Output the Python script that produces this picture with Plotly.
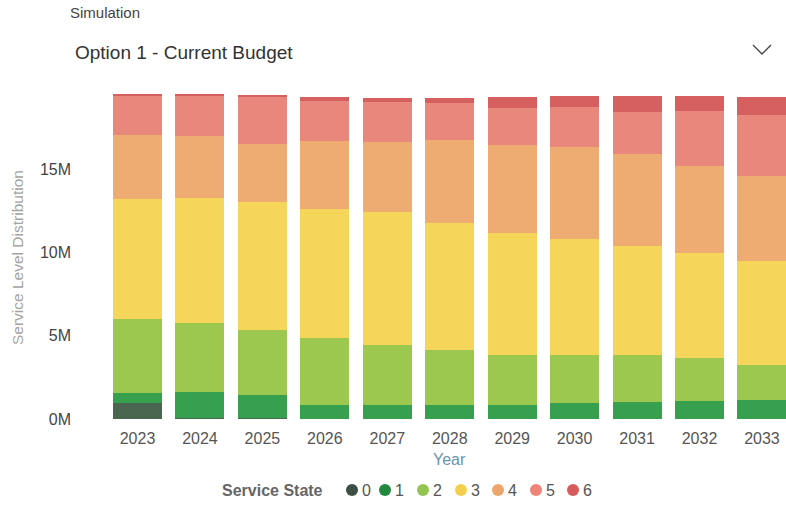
import plotly.graph_objects as go

# Service level distribution by year, per service state (values in millions)
years = ["2023", "2024", "2025", "2026", "2027", "2028", "2029", "2030", "2031", "2032", "2033"]
states = ["0", "1", "2", "3", "4", "5", "6"]

state0 = [0.94, 0.05, 0.05, 0.03, 0.03, 0.03, 0.03, 0.03, 0.03, 0.03, 0.03]
state1 = [0.60, 1.56, 1.40, 0.80, 0.80, 0.80, 0.82, 0.96, 1.00, 1.08, 1.10]
state2 = [4.46, 4.14, 3.90, 4.06, 3.62, 3.34, 3.00, 2.84, 2.80, 2.56, 2.10]
state3 = [7.24, 7.54, 7.70, 7.70, 8.00, 7.62, 7.30, 6.97, 6.58, 6.30, 6.24]
state4 = [3.80, 3.72, 3.46, 4.10, 4.20, 4.94, 5.33, 5.53, 5.48, 5.24, 5.12]
state5 = [2.40, 2.44, 2.88, 2.40, 2.40, 2.26, 2.20, 2.42, 2.54, 3.30, 3.68]
state6 = [0.03, 0.05, 0.05, 0.24, 0.24, 0.30, 0.66, 0.64, 0.94, 0.86, 1.06]

series = [state0, state1, state2, state3, state4, state5, state6]
bar_colors = ["#4b6650", "#36a04e", "#9cc850", "#f5d65a", "#eeac72", "#e8877c", "#d65f5f"]
legend_colors = ["#3b4f45", "#1f8a3e", "#93c452", "#f2d04e", "#eda56a", "#ee8378", "#d65b5b"]

y_ticks = [0, 5, 10, 15]
y_ticktext = ["0M", "5M", "10M", "15M"]

FONT = "Liberation Sans, Arial, sans-serif"

fig = go.Figure()
for name, vals, col in zip(states, series, bar_colors):
    fig.add_trace(go.Bar(
        x=years, y=[v * 1e6 for v in vals], name=name,
        marker=dict(color=col, line=dict(width=0)),
        showlegend=False,
    ))

W, H = 786, 509
L, R, T, B = 76, 0, 86, 90
pw, ph = W - L - R, H - T - B


def px(x):
    return (x - L) / pw


def py(y):
    return (H - B - y) / ph


shapes = []
annotations = []

# Dropdown chevron
shapes.append(dict(
    type="path", xref="paper", yref="paper",
    path=f"M {px(753)} {py(45)} L {px(762)} {py(54)} L {px(771)} {py(45)}",
    line=dict(color="#444444", width=1.3),
))

# Header texts
annotations.append(dict(
    text="Simulation", xref="paper", yref="paper", x=px(68), y=py(13),
    xanchor="left", yanchor="middle", showarrow=False,
    font=dict(family=FONT, size=15, color="#444444"),
))
annotations.append(dict(
    text="Option 1 - Current Budget", xref="paper", yref="paper", x=px(73), y=py(52),
    xanchor="left", yanchor="middle", showarrow=False,
    font=dict(family=FONT, size=19, color="#333333"),
))

# Legend: title, colored dots and labels
legend_y = py(490)
annotations.append(dict(
    text="<b>Service State</b>", xref="paper", yref="paper", x=px(220), y=legend_y,
    xanchor="left", yanchor="middle", showarrow=False,
    font=dict(family=FONT, size=16, color="#666666"),
))
dot_x = [352, 385, 423, 461, 498, 536, 573]
for name, col, cx in zip(states, legend_colors, dot_x):
    shapes.append(dict(
        type="circle", xref="paper", yref="paper",
        xsizemode="pixel", ysizemode="pixel",
        xanchor=px(cx), yanchor=legend_y,
        x0=-6, x1=6, y0=-6, y1=6,
        fillcolor=col, line=dict(width=0),
    ))
    annotations.append(dict(
        text=name, xref="paper", yref="paper", x=px(cx + 8), y=legend_y,
        xanchor="left", yanchor="middle", showarrow=False,
        font=dict(family=FONT, size=16, color="#555555"),
    ))

# Axis titles
annotations.append(dict(
    text="Year", xref="paper", yref="paper", x=px(449), y=py(459),
    xanchor="center", yanchor="middle", showarrow=False,
    font=dict(family=FONT, size=16, color="#6a93b3"),
))
annotations.append(dict(
    text="Service Level Distribution", xref="paper", yref="paper", x=px(17), y=py(258),
    xanchor="center", yanchor="middle", showarrow=False, textangle=-90,
    font=dict(family=FONT, size=15.5, color="#a3a3a3"),
))

fig.update_layout(
    width=W, height=H,
    margin=dict(l=L, r=R, t=T, b=B),
    barmode="stack",
    bargap=0.215,
    plot_bgcolor="white",
    paper_bgcolor="white",
    font=dict(family=FONT),
    shapes=shapes,
    annotations=annotations,
    xaxis=dict(
        type="category",
        range=[-0.985, 10.385],
        showgrid=False, zeroline=False, showline=False, ticks="",
        tickfont=dict(family=FONT, size=16, color="#555555"),
        ticklabelstandoff=8,
    ),
    yaxis=dict(
        range=[0, 20e6],
        tickvals=[v * 1e6 for v in y_ticks],
        ticktext=y_ticktext,
        showgrid=False, zeroline=False, showline=False, ticks="",
        tickfont=dict(family=FONT, size=16, color="#444444"),
        ticklabelstandoff=4,
    ),
)

fig.write_html("out.html")
